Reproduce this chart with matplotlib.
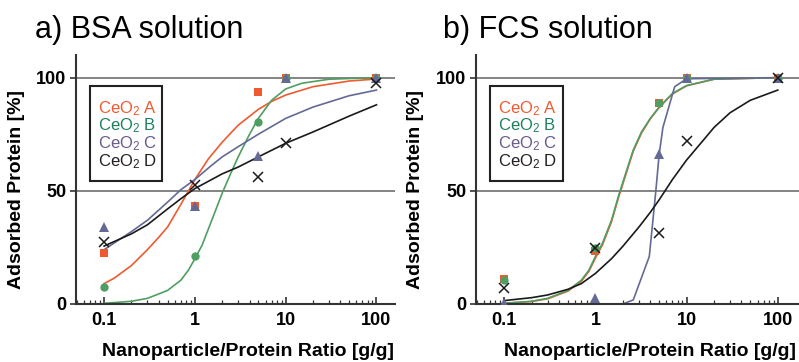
import matplotlib
matplotlib.use("Agg")
import matplotlib.pyplot as plt
from matplotlib.patches import Rectangle

plt.rcParams['font.family'] = ['Liberation Sans', 'DejaVu Sans']
plt.rcParams['mathtext.fontset'] = 'custom'
plt.rcParams['mathtext.rm'] = 'Liberation Sans'
plt.rcParams['mathtext.it'] = 'Liberation Sans'

# measured points (ratio g/g -> adsorbed %)
ratio = [0.1, 1, 5, 10, 100]

bsa_a = [22.6, 43.5, 93.8, 100, 100]
bsa_b = [7.3, 21.1, 80.6, 100, 100]
bsa_c = [34.0, 43.2, 65.6, 100, 100]
bsa_d = [27.2, 52.4, 56.0, 71.2, 97.7]

fcs_a = [10.9, 23.4, 88.8, 100, 100]
fcs_b = [10.6, 24.6, 88.8, 100, 100]
fcs_c = [0.5, 2.5, 66.3, 100, 100]
fcs_d = [6.9, 24.6, 31.2, 72.0, 100]

# fitted curves
bsa_a_fx = [0.1, 0.13, 0.2, 0.3, 0.4, 0.5, 0.7, 1.0, 1.4, 2.0, 3.0, 5.0, 7.0, 10, 20, 50, 100]
bsa_a_fy = [9, 11.5, 17, 24, 29.5, 34, 44, 55, 64, 71.5, 79, 86, 89.5, 92.3, 96, 98.5, 99.4]
bsa_b_fx = [0.1, 0.2, 0.3, 0.5, 0.7, 0.85, 1.0, 1.2, 1.5, 2.0, 2.5, 3.0, 4.0, 5.0, 7.0, 10, 15, 30, 100]
bsa_b_fy = [0.3, 1.2, 2.5, 6, 10.5, 15, 20, 26, 36, 49, 58, 65, 75, 82, 90, 95, 97.5, 99.3, 100]
bsa_c_fx = [0.1, 0.2, 0.3, 0.5, 0.7, 1.0, 1.5, 2.0, 3.0, 5.0, 10, 20, 50, 100]
bsa_c_fy = [24, 32, 37, 45, 50.5, 55, 61, 65, 69.5, 75, 82, 87, 92, 94.5]
bsa_d_fx = [0.1, 0.2, 0.3, 0.5, 0.7, 1.0, 2.0, 3.0, 5.0, 10, 20, 50, 100]
bsa_d_fy = [25.6, 31, 35, 42, 46.5, 51, 57.5, 60.5, 65, 71, 76, 83, 88]

fcs_a_fx = [0.1, 0.2, 0.3, 0.5, 0.7, 0.85, 1.0, 1.2, 1.5, 1.8, 2.2, 2.6, 3.2, 4.0, 5.0, 7.0, 10, 20, 100]
fcs_a_fy = [0.3, 1.1, 2.3, 5.7, 10, 14.5, 20.3, 26.3, 36.3, 47.3, 58.3, 67.5, 75.5, 81.8, 86.8, 92.8, 96.4, 99.3, 100]
fcs_b_fx = [0.1, 0.2, 0.3, 0.5, 0.7, 0.85, 1.0, 1.2, 1.5, 1.8, 2.2, 2.6, 3.2, 4.0, 5.0, 7.0, 10, 20, 100]
fcs_b_fy = [0.3, 1.2, 2.5, 6, 10.5, 15, 21, 27, 37, 48, 59, 68, 76, 82, 87, 93, 96.5, 99.3, 100]
fcs_c_fx = [0.1, 2.0, 2.6, 3.9, 4.6, 5.0, 5.5, 7.4, 10, 100]
fcs_c_fy = [0, 0, 1.8, 21, 50, 66, 78, 96, 99.5, 100]
fcs_d_fx = [0.1, 0.2, 0.3, 0.5, 0.7, 1.0, 1.5, 2.0, 3.0, 4.0, 5.0, 7.0, 10, 15, 20, 30, 50, 100]
fcs_d_fy = [1.5, 2.8, 4, 6.5, 9, 13.5, 20, 25.5, 34, 40.5, 46, 55, 63.6, 72, 78, 84.5, 90, 94.5]

col_a = '#f05a30'
col_b = '#4f9e62'
col_c = '#636a96'
col_d = '#1a1a1a'
txt_cols = ['#f05a30', '#1f8060', '#6b5a8c', '#231f20']
names = ['CeO$_2$ A', 'CeO$_2$ B', 'CeO$_2$ C', 'CeO$_2$ D']


def draw_panel(ax, pts, fits, xmax, box_x, txt_x):
    cols = [col_a, col_b, col_c, col_d]
    for (fx, fy), c in zip(fits, cols):
        ax.plot(fx, fy, color=c, lw=1.2, zorder=2)
    ax.plot(ratio, pts[0], 's', color=col_a, ms=5.5, mew=0, zorder=3)
    ax.plot(ratio, pts[1], 'o', color=col_b, ms=6, mew=0, zorder=3)
    ax.plot(ratio, pts[2], '^', color=col_c, ms=6.5, mew=0, zorder=4)
    ax.plot(ratio, pts[3], 'x', color=col_d, ms=6.5, mew=1.1, zorder=5)

    ax.set_xscale('log')
    ax.set_xlim(0.049, xmax)
    ax.set_ylim(0, 110)
    ax.set_xticks([0.1, 1, 10, 100])
    ax.set_xticklabels(['0.1', '1', '10', '100'])
    ax.set_yticks([0, 50, 100])
    ax.set_yticklabels(['0', '50', '100'])
    for lab in ax.get_xticklabels() + ax.get_yticklabels():
        lab.set_fontweight('bold')
        lab.set_fontsize(13)
    ax.tick_params(axis='x', which='major', direction='in', length=5, width=1.2, pad=6, color='#333333')
    ax.tick_params(axis='x', which='minor', direction='in', length=3, width=0.9, color='#333333')
    ax.tick_params(axis='y', direction='out', length=4, width=1.2, pad=3, color='#333333')
    for y in [50, 100]:
        ax.axhline(y, color='#7a7a7a', lw=1.3, zorder=1)
    ax.spines['top'].set_visible(False)
    ax.spines['right'].set_visible(False)
    ax.spines['left'].set_linewidth(1.5)
    ax.spines['bottom'].set_linewidth(1.5)
    ax.spines['left'].set_color('#333333')
    ax.spines['bottom'].set_color('#333333')

    ax.set_xlabel('Nanoparticle/Protein Ratio [g/g]', fontsize=14, fontweight='bold')
    ax.xaxis.set_label_coords(0.54, -0.155)
    ax.set_ylabel('Adsorbed Protein [%]', fontsize=14, fontweight='bold')
    ax.yaxis.set_label_coords(-0.16, 0.458)

    ax.add_patch(Rectangle((box_x, 0.494), 0.226, 0.382, transform=ax.transAxes,
                           fill=False, ec='#222222', lw=1.5, zorder=6))
    for i, (nm, tc) in enumerate(zip(names, txt_cols)):
        ax.text(txt_x, 0.767 - i * 0.071, nm, color=tc, fontsize=12,
                transform=ax.transAxes, va='baseline', zorder=7)


fig = plt.figure(figsize=(7.99, 3.62), dpi=100)
ax1 = fig.add_axes([76 / 799, 1 - 304 / 362, 319 / 799, 249 / 362])
ax2 = fig.add_axes([476 / 799, 1 - 304 / 362, 323 / 799, 249 / 362])

draw_panel(ax1, [bsa_a, bsa_b, bsa_c, bsa_d],
           [(bsa_a_fx, bsa_a_fy), (bsa_b_fx, bsa_b_fy), (bsa_c_fx, bsa_c_fy), (bsa_d_fx, bsa_d_fy)],
           160, 0.044, 0.069)
draw_panel(ax2, [fcs_a, fcs_b, fcs_c, fcs_d],
           [(fcs_a_fx, fcs_a_fy), (fcs_b_fx, fcs_b_fy), (fcs_c_fx, fcs_c_fy), (fcs_d_fx, fcs_d_fy)],
           171, 0.043, 0.068)

fig.text(35 / 799, 1 - 38 / 362, 'a) BSA solution', fontsize=22, va='baseline')
fig.text(443 / 799, 1 - 38 / 362, 'b) FCS solution', fontsize=22, va='baseline')

fig.savefig('out.png', dpi=100)
